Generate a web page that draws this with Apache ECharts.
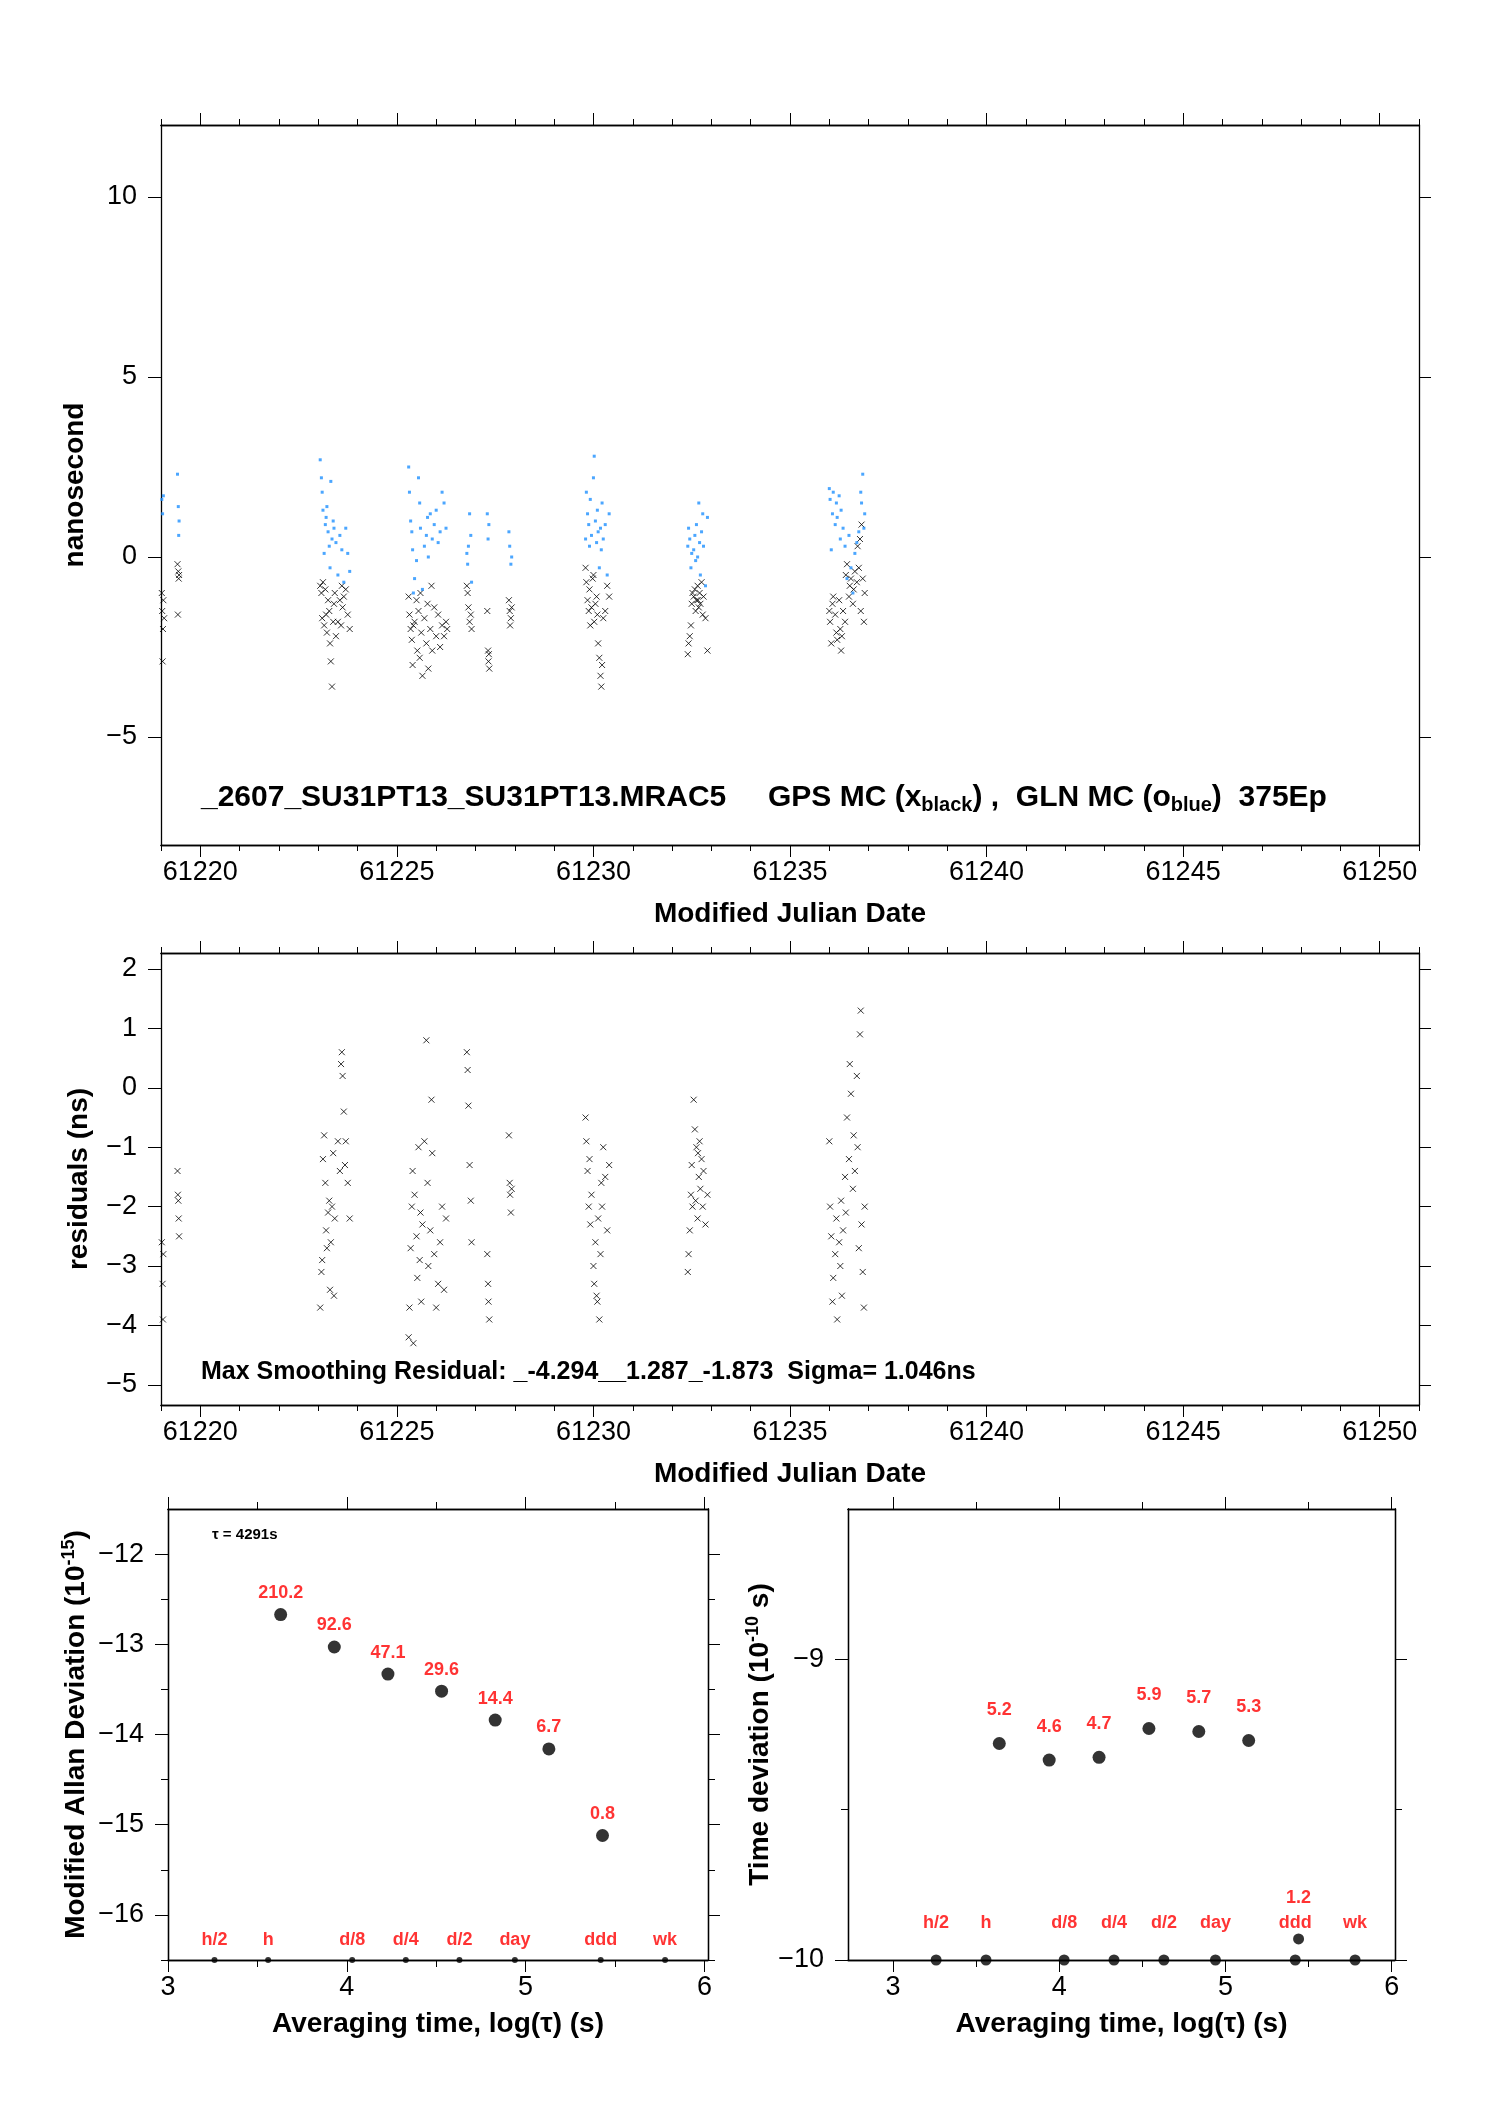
<!DOCTYPE html>
<html><head><meta charset="utf-8">
<script src="https://cdn.jsdelivr.net/npm/echarts@6/dist/echarts.min.js"></script>
<style>html,body{margin:0;background:#fff}#c{width:1488px;height:2105px}</style>
</head><body><div id="c"></div>
<script>
// ---- data ----
const gpsPoints = [
[61219.02,-1.0],[61219.03,-1.5],[61219.05,-2.0],[61219.04,-2.9],[61219.06,-1.2],[61219.08,-1.7],
[61219.42,-0.2],[61219.44,-0.4],[61219.45,-0.6],[61219.43,-1.6],[61219.46,-0.5],
[61223.05,-0.8],[61223.08,-1.0],[61223.1,-1.7],[61223.12,-0.7],[61223.15,-1.9],[61223.18,-0.9],[61223.2,-1.6],[61223.22,-2.1],[61223.25,-1.2],[61223.28,-1.5],[61223.3,-2.4],[61223.32,-2.9],[61223.35,-3.6],[61223.38,-1.8],[61223.4,-1.3],[61223.42,-1.0],[61223.5,-1.8],[61223.55,-1.2],[61223.6,-0.8],[61223.62,-1.4],[61223.65,-1.1],[61223.7,-0.9],[61223.75,-1.6],[61223.8,-2.0],[61223.45,-2.2],[61223.58,-1.9],
[61225.3,-1.1],[61225.32,-1.6],[61225.35,-2.0],[61225.38,-2.3],[61225.4,-3.0],[61225.45,-1.8],[61225.5,-1.2],[61225.52,-2.6],[61225.55,-1.5],[61225.6,-1.0],[61225.62,-2.1],[61225.65,-3.3],[61225.7,-1.7],[61225.75,-2.4],[61225.78,-1.3],[61225.8,-3.1],[61225.85,-2.0],[61225.9,-2.6],[61225.95,-1.4],[61226.0,-2.2],[61226.05,-1.6],[61226.1,-2.5],[61226.15,-1.9],[61226.2,-2.2],[61226.25,-1.8],[61226.28,-2.0],[61225.42,-1.9],[61225.58,-2.8],[61225.88,-0.8],
[61226.78,-0.8],[61226.8,-1.0],[61226.82,-1.4],[61226.85,-1.8],[61226.88,-1.6],[61226.9,-2.0],
[61227.3,-1.5],[61227.32,-2.6],[61227.33,-2.9],[61227.35,-3.1],[61227.34,-2.7],
[61227.85,-1.2],[61227.87,-1.5],[61227.88,-1.9],[61227.9,-1.7],[61227.92,-1.4],
[61229.8,-0.3],[61229.82,-0.7],[61229.85,-1.2],[61229.88,-1.5],[61229.9,-0.9],[61229.92,-1.9],[61229.95,-1.4],[61230.0,-0.5],[61230.02,-1.8],[61230.05,-1.3],[61230.1,-1.6],[61230.12,-2.4],[61230.15,-2.8],[61230.18,-3.3],[61230.2,-3.6],[61230.22,-3.0],[61230.25,-1.7],[61230.3,-1.5],[61230.35,-0.8],[61230.4,-1.1],[61229.98,-0.6],[61230.08,-1.1],
[61232.4,-2.7],[61232.42,-2.4],[61232.45,-2.2],[61232.48,-1.9],[61232.5,-1.3],[61232.55,-1.1],[61232.58,-0.9],[61232.6,-1.5],[61232.62,-1.2],[61232.65,-0.8],[61232.68,-1.4],[61232.7,-1.0],[61232.72,-1.3],[61232.75,-0.7],[61232.78,-1.6],[61232.8,-1.1],[61232.85,-1.7],[61232.9,-2.6],[61232.52,-1.0],[61232.66,-1.2],
[61236.0,-1.5],[61236.02,-1.8],[61236.05,-2.4],[61236.08,-1.3],[61236.1,-1.1],[61236.15,-1.6],[61236.18,-2.1],[61236.2,-2.3],[61236.25,-1.2],[61236.28,-2.0],[61236.3,-2.6],[61236.32,-2.2],[61236.35,-1.5],[61236.4,-1.8],[61236.42,-0.5],[61236.45,-0.2],[61236.5,-1.1],[61236.52,-0.8],[61236.55,-0.6],[61236.6,-1.3],[61236.62,-0.9],[61236.65,-0.4],[61236.7,-0.7],[61236.72,0.3],[61236.75,-0.3],[61236.78,0.5],[61236.8,-1.5],[61236.82,0.9],[61236.85,-0.6],[61236.88,-1.8],[61236.9,-1.0]
];
const glnPoints = [
[61219.02,1.6],[61219.04,1.2],[61219.06,1.7],
[61219.42,2.3],[61219.44,1.4],[61219.45,0.6],[61219.46,1.0],
[61223.05,2.7],[61223.08,2.2],[61223.1,1.8],[61223.12,1.3],[61223.15,0.1],[61223.18,0.9],[61223.2,1.1],[61223.22,1.4],[61223.25,0.7],[61223.28,0.3],[61223.3,-0.3],[61223.32,2.1],[61223.35,0.5],[61223.38,1.0],[61223.4,0.8],[61223.45,0.4],[61223.5,-0.5],[61223.55,0.6],[61223.6,0.2],[61223.65,-0.7],[61223.7,0.8],[61223.75,0.1],[61223.8,-0.4],
[61225.3,2.5],[61225.32,1.8],[61225.35,1.0],[61225.38,0.7],[61225.4,0.2],[61225.45,-0.6],[61225.5,-0.1],[61225.55,2.2],[61225.58,1.5],[61225.6,0.8],[61225.65,-0.9],[61225.7,0.3],[61225.75,0.6],[61225.78,1.1],[61225.8,0.0],[61225.85,1.2],[61225.9,0.5],[61225.95,0.9],[61226.0,1.3],[61226.05,0.4],[61226.1,0.7],[61226.15,1.8],[61226.2,1.5],[61226.25,0.8],[61225.42,-1.0],
[61226.78,0.1],[61226.8,-0.2],[61226.82,0.3],[61226.85,1.2],[61226.88,0.6],[61226.9,-0.7],
[61227.3,1.2],[61227.32,0.5],[61227.34,0.9],
[61227.85,0.7],[61227.87,0.3],[61227.9,-0.2],[61227.92,0.0],
[61229.8,0.5],[61229.82,1.8],[61229.85,1.2],[61229.88,0.9],[61229.9,0.3],[61229.92,1.6],[61229.95,0.6],[61230.0,2.2],[61230.02,2.8],[61230.05,1.0],[61230.08,0.4],[61230.1,1.3],[61230.12,0.7],[61230.15,-0.3],[61230.18,0.8],[61230.2,0.2],[61230.22,1.5],[61230.25,0.5],[61230.3,0.9],[61230.35,-0.5],[61230.4,1.2],
[61232.4,0.3],[61232.42,0.8],[61232.45,0.5],[61232.48,-0.3],[61232.5,0.1],[61232.55,0.2],[61232.58,0.6],[61232.6,-0.1],[61232.62,0.9],[61232.65,0.0],[61232.68,1.5],[61232.7,0.4],[61232.72,-0.5],[61232.75,0.7],[61232.78,1.2],[61232.8,0.3],[61232.85,-0.8],[61232.9,1.1],
[61236.0,1.9],[61236.02,1.6],[61236.05,0.2],[61236.08,1.2],[61236.1,1.8],[61236.15,0.9],[61236.18,1.5],[61236.2,1.1],[61236.25,1.7],[61236.28,0.5],[61236.3,1.3],[61236.35,0.8],[61236.4,0.3],[61236.45,-0.6],[61236.5,0.6],[61236.55,-0.3],[61236.6,-1.0],[61236.65,0.1],[61236.7,0.4],[61236.75,0.7],[61236.8,1.8],[61236.82,1.5],[61236.85,2.3],[61236.88,0.8],[61236.9,1.2]
];
const residPoints = [
[61219.02,-2.6],[61219.04,-3.3],[61219.05,-3.9],[61219.06,-2.8],
[61219.42,-1.4],[61219.44,-1.9],[61219.45,-2.2],[61219.46,-2.5],[61219.43,-1.8],
[61223.05,-3.7],[61223.08,-3.1],[61223.1,-2.9],[61223.12,-1.2],[61223.15,-0.8],[61223.18,-1.6],[61223.2,-2.4],[61223.22,-2.7],[61223.25,-2.1],[61223.28,-1.9],[61223.3,-3.4],[61223.32,-2.6],[61223.35,-2.0],[61223.38,-1.1],[61223.4,-3.5],[61223.42,-2.2],[61223.5,-0.9],[61223.55,-1.4],[61223.6,0.6],[61223.62,0.2],[61223.65,-0.4],[61223.7,-0.9],[61223.75,-1.6],[61223.8,-2.2],[61223.58,0.4],[61223.68,-1.3],
[61225.3,-4.2],[61225.32,-3.7],[61225.35,-2.7],[61225.38,-2.0],[61225.4,-1.4],[61225.45,-1.8],[61225.5,-2.5],[61225.52,-3.2],[61225.55,-1.0],[61225.6,-2.1],[61225.62,-3.6],[61225.65,-2.3],[61225.7,-0.9],[61225.75,0.8],[61225.78,-1.6],[61225.8,-3.0],[61225.85,-2.4],[61225.9,-1.1],[61225.95,-2.8],[61226.0,-3.7],[61226.05,-3.3],[61226.1,-2.6],[61226.15,-2.0],[61226.2,-3.4],[61226.25,-2.2],[61225.42,-4.3],[61225.58,-2.9],[61225.88,-0.2],
[61226.78,0.6],[61226.8,0.3],[61226.82,-0.3],[61226.85,-1.3],[61226.88,-1.9],[61226.9,-2.6],
[61227.3,-2.8],[61227.32,-3.3],[61227.33,-3.6],[61227.35,-3.9],
[61227.85,-0.8],[61227.87,-1.6],[61227.88,-1.8],[61227.9,-2.1],[61227.92,-1.7],
[61229.8,-0.5],[61229.82,-0.9],[61229.85,-1.4],[61229.88,-2.0],[61229.9,-1.2],[61229.92,-2.3],[61229.95,-1.8],[61230.0,-3.0],[61230.02,-3.3],[61230.05,-2.6],[61230.1,-3.6],[61230.12,-2.2],[61230.15,-3.9],[61230.18,-2.8],[61230.2,-1.6],[61230.22,-2.0],[61230.25,-1.0],[61230.3,-1.5],[61230.35,-2.4],[61230.4,-1.3],[61230.08,-3.5],
[61232.4,-3.1],[61232.42,-2.8],[61232.45,-2.4],[61232.48,-1.8],[61232.5,-1.3],[61232.55,-0.2],[61232.58,-0.7],[61232.6,-1.9],[61232.62,-1.0],[61232.65,-2.2],[61232.68,-1.5],[61232.7,-0.9],[61232.72,-1.7],[61232.75,-1.2],[61232.78,-2.0],[61232.8,-1.4],[61232.85,-2.3],[61232.9,-1.8],[61232.52,-2.0],[61232.66,-1.1],
[61236.0,-0.9],[61236.02,-2.0],[61236.05,-2.5],[61236.08,-3.6],[61236.1,-3.2],[61236.15,-2.8],[61236.18,-2.2],[61236.2,-3.9],[61236.25,-2.6],[61236.28,-3.0],[61236.3,-1.9],[61236.32,-3.5],[61236.35,-2.4],[61236.4,-1.5],[61236.42,-2.1],[61236.45,-0.5],[61236.5,-1.2],[61236.52,0.4],[61236.55,-0.1],[61236.6,-1.7],[61236.62,-0.8],[61236.65,-1.4],[61236.7,0.2],[61236.72,-1.0],[61236.75,-2.7],[61236.78,0.9],[61236.8,1.3],[61236.82,-2.3],[61236.85,-3.1],[61236.88,-3.7],[61236.9,-2.0]
];
const allanX = [3.63,3.93,4.23,4.53,4.83,5.13,5.43];
const allanY = [-12.67,-13.03,-13.33,-13.52,-13.84,-14.16,-15.12];
const allanLabels = ['210.2','92.6','47.1','29.6','14.4','6.7','0.8'];
const tdevX = [3.64,3.94,4.24,4.54,4.84,5.14];
const tdevY = [-9.28,-9.335,-9.326,-9.23,-9.24,-9.27];
const tdevLabels = ['5.2','4.6','4.7','5.9','5.7','5.3'];
const markX = [3.26,3.56,4.03,4.33,4.63,4.94,5.42,5.78];
const markLabels = ['h/2','h','d/8','d/4','d/2','day','ddd','wk'];
const dddExtra = [5.44,-9.93,'1.2'];

// ---- chart ----
const F = 'Liberation Sans, Arial, sans-serif';
const chart = echarts.init(document.getElementById('c'));
const lineS = {lineStyle:{color:'#000',width:1.3}};
const days = []; for (let d=61219; d<=61251; d++) days.push(d);
const days5 = [61220,61225,61230,61235,61240,61245,61250];
const X_MARK = 'path://M0,0L10,10M10,0L0,10';

function mjdAxes(gi){
  const base = {type:'value', gridIndex:gi, min:61219, max:61251, splitLine:{show:false}, axisLine:{show:true,onZero:false,...lineS}};
  return [
    {...base, position:'bottom', axisTick:{customValues:days5,length:12,lineStyle:{color:'#000'}},
     axisLabel:{customValues:days5,color:'#000',fontSize:27,fontFamily:F,margin:14,formatter:v=>String(v)},
     name:'Modified Julian Date', nameLocation:'middle', nameGap:55, nameTextStyle:{fontSize:28,fontWeight:'bold',color:'#000',fontFamily:F}},
    {...base, position:'bottom', axisTick:{customValues:days,length:6,lineStyle:{color:'#000'}}, axisLabel:{show:false}},
    {...base, position:'top', axisTick:{customValues:days5,length:12,lineStyle:{color:'#000'}}, axisLabel:{show:false}},
    {...base, position:'top', axisTick:{customValues:days,length:6,lineStyle:{color:'#000'}}, axisLabel:{show:false}}
  ];
}
function yAxes(gi, min, max, ticks, name, nameGap, minor){
  const base = {type:'value', gridIndex:gi, min, max, splitLine:{show:false}, axisLine:{show:true,onZero:false,...lineS}};
  const arr = [
    {...base, position:'left', axisTick:{customValues:ticks,length:13,lineStyle:{color:'#000'}},
     axisLabel:{customValues:ticks,color:'#000',fontSize:27,fontFamily:F,margin:24,formatter:v=>String(v).replace('-','\u2212')},
     name, nameLocation:'middle', nameGap, nameRotate:90, nameTextStyle:{fontSize:28,fontWeight:'bold',color:'#000',fontFamily:F,rich:{sup:{fontSize:18,fontWeight:'bold',verticalAlign:'top',padding:[0,0,14,0]}}}},
    {...base, position:'right', axisTick:{customValues:ticks,length:12,lineStyle:{color:'#000'}}, axisLabel:{show:false}}
  ];
  if (minor) arr.push({...base, position:'right', axisTick:{customValues:minor,length:7,lineStyle:{color:'#000'}}, axisLabel:{show:false}},
                      {...base, position:'left', axisTick:{customValues:minor,length:7,lineStyle:{color:'#000'}}, axisLabel:{show:false}});
  return arr;
}
function logAxes(gi, min){
  const t=[3,4,5,6], m=[3.5,4.5,5.5];
  const base = {type:'value', gridIndex:gi, min, max:6.02, splitLine:{show:false}, axisLine:{show:true,onZero:false,...lineS}};
  return [
    {...base, position:'bottom', axisTick:{customValues:t,length:12,lineStyle:{color:'#000'}},
     axisLabel:{customValues:t,color:'#000',fontSize:27,fontFamily:F,margin:14},
     name:'Averaging time, log(\u03c4) (s)', nameLocation:'middle', nameGap:50, nameTextStyle:{fontSize:28,fontWeight:'bold',color:'#000',fontFamily:F}},
    {...base, position:'bottom', axisTick:{customValues:m,length:7,lineStyle:{color:'#000'}}, axisLabel:{show:false}},
    {...base, position:'top', axisTick:{customValues:t,length:12,lineStyle:{color:'#000'}}, axisLabel:{show:false}},
    {...base, position:'top', axisTick:{customValues:m,length:7,lineStyle:{color:'#000'}}, axisLabel:{show:false}}
  ];
}
const xA = [...mjdAxes(0), ...mjdAxes(1), ...logAxes(2,3), ...logAxes(3,2.73)];
const yA = [
  ...yAxes(0,-8,12,[-5,0,5,10],'nanosecond',72),
  ...yAxes(1,-5.34,2.27,[-5,-4,-3,-2,-1,0,1,2],'residuals (ns)',68),
  ...yAxes(2,-16.5,-11.5,[-16,-15,-14,-13,-12],'Modified Allan Deviation (10{sup|-15})',76,[-16.5,-15.5,-14.5,-13.5,-12.5]),
  ...yAxes(3,-10,-8.5,[-10,-9],'Time deviation (10{sup|-10} s)',68,[-9.5])
];
const redLbl = (pos, dist)=>({show:true,position:pos,distance:dist,color:'#ff0000',fontSize:18,fontWeight:'bold',fontFamily:F});
const blk = {color:'#000'};
chart.setOption({
  animation:false,
  grid:[
    {left:161,width:1258,top:125,height:720},
    {left:161,width:1258,top:953,height:452},
    {left:168,width:540,top:1509,height:451},
    {left:848,width:547,top:1509,height:451}
  ],
  xAxis:xA, yAxis:yA,
  series:[
    {type:'scatter',xAxisIndex:0,yAxisIndex:0,data:gpsPoints,symbol:X_MARK,symbolSize:6,itemStyle:{color:'rgba(0,0,0,0)',borderColor:'#000',borderWidth:1}},
    {type:'scatter',xAxisIndex:0,yAxisIndex:0,data:glnPoints,symbol:'rect',symbolSize:3,itemStyle:{color:'#1e90ff'}},
    {type:'scatter',xAxisIndex:4,yAxisIndex:2,data:residPoints,symbol:X_MARK,symbolSize:6,itemStyle:{color:'rgba(0,0,0,0)',borderColor:'#000',borderWidth:1}},
    {type:'scatter',xAxisIndex:8,yAxisIndex:4,symbolSize:13,itemStyle:blk,
      data:allanX.map((x,i)=>({value:[x,allanY[i]],label:{...redLbl('top',6),formatter:allanLabels[i]}}))},
    {type:'scatter',xAxisIndex:8,yAxisIndex:4,symbolSize:6,itemStyle:blk,
      data:markX.map((x,i)=>({value:[x,-16.5],label:{...redLbl('top',8),formatter:markLabels[i]}}))},
    {type:'scatter',xAxisIndex:12,yAxisIndex:8,symbolSize:13,itemStyle:blk,
      data:tdevX.map((x,i)=>({value:[x,tdevY[i]],label:{...redLbl('top',18),formatter:tdevLabels[i]}}))},
    {type:'scatter',xAxisIndex:12,yAxisIndex:8,symbolSize:11,itemStyle:blk,
      data:markX.map((x,i)=>({value:[x,-10],label:{...redLbl('top',22),formatter:markLabels[i]}}))},
    {type:'scatter',xAxisIndex:12,yAxisIndex:8,symbolSize:11,itemStyle:blk,
      data:[{value:[dddExtra[0],dddExtra[1]],label:{...redLbl('top',26),formatter:dddExtra[2]}}]}
  ],
  graphic:[
    {type:'text',left:201,top:783,style:{text:'_2607_SU31PT13_SU31PT13.MRAC5     GPS MC (x{s|black}) ,  GLN MC (o{s|blue})  375Ep',
      font:'bold 30px '+F,fill:'#000',rich:{s:{font:'bold 20px '+F,fill:'#000',padding:[15,0,0,0]}}}},
    {type:'text',left:201,top:1360,style:{text:'Max Smoothing Residual: _-4.294__1.287_-1.873  Sigma= 1.046ns',font:'bold 25px '+F,fill:'#000'}},
    {type:'text',left:212,top:1527,style:{text:'\u03c4 = 4291s',font:'bold 15px '+F,fill:'#000'}}
  ]
});
</script></body></html>
